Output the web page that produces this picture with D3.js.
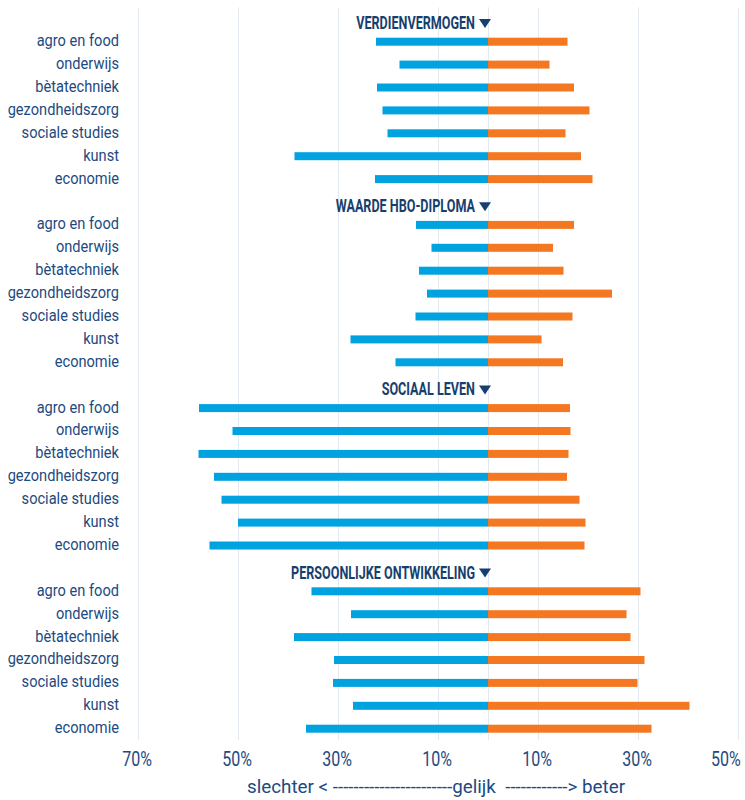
<!DOCTYPE html>
<html>
<head>
<meta charset="utf-8">
<script src="https://cdn.jsdelivr.net/npm/d3@7"></script>
<style>
  body { margin: 0; background: #fff; }
  svg text { font-family: Roboto, "Liberation Sans", sans-serif; }
</style>
</head>
<body>
<svg id="chart" width="745" height="800"></svg>
<script>
// categories per block
var categories = ["agro en food", "onderwijs", "bètatechniek", "gezondheidszorg", "sociale studies", "kunst", "economie"];
var themes = ["VERDIENVERMOGEN", "WAARDE HBO-DIPLOMA", "SOCIAAL LEVEN", "PERSOONLIJKE ONTWIKKELING"];

// % slechter (left, blue) per theme
var slechter = [
  [22.4, 17.7, 22.2, 21.1, 20.1, 38.7, 22.6],
  [14.4, 11.3, 13.8, 12.2, 14.5, 27.5, 18.5],
  [57.8, 51.1, 57.9, 54.8, 53.3, 50.0, 55.7],
  [35.3, 27.4, 38.8, 30.8, 31.0, 27.0, 36.4]
];
// % beter (right, orange) per theme
var beter = [
  [15.9, 12.3, 17.2, 20.3, 15.5, 18.6, 20.9],
  [17.2, 13.0, 15.1, 24.8, 16.9, 10.7, 15.0],
  [16.4, 16.5, 16.1, 15.8, 18.3, 19.5, 19.3],
  [30.5, 27.7, 28.5, 31.3, 29.9, 40.3, 32.7]
];
var tickValues = [-70, -50, -30, -10, 10, 30, 50];
var footer = "slechter < -----------------------gelijk  ------------> beter";

var svg = d3.select("#chart");
var labelColor = "#1d4a80",
  headColor = "#173f6e",
  blue = "#00a3e0",
  orange = "#f47721";

// no condensed font installed, so squeeze the glyphs horizontally around their anchor
function condense(sel, k) {
  sel.attr("transform", function() {
    var ax = +this.getAttribute("x") || 0;
    return "translate(" + ax + ",0) scale(" + k + ",1) translate(" + (-ax) + ",0)";
  });
}

var x = d3.scaleLinear().domain([-70, 50]).range([138, 738]);

// one slot for each header and each row
var slots = [];
themes.forEach(function(t, ti) {
  slots.push("h" + ti);
  categories.forEach(function(c, ci) {
    slots.push(ti + "-" + ci);
  });
});
var y = d3.scaleBand().domain(slots).range([7.35, 740.15]);
function mid(key) { return y(key) + y.bandwidth() / 2; }

// gridlines
svg.append("g")
  .attr("class", "grid")
  .selectAll("line")
  .data(tickValues.concat([0]))
  .enter().append("line")
  .attr("x1", function(d) { return x(d) + 0.5; })
  .attr("x2", function(d) { return x(d) + 0.5; })
  .attr("y1", y.range()[0])
  .attr("y2", y.range()[1])
  .attr("stroke", "#e3e9f1")
  .attr("stroke-width", 1);

var rows = [];
themes.forEach(function(t, ti) {
  categories.forEach(function(c, ci) {
    rows.push({ key: ti + "-" + ci, cat: c, neg: slechter[ti][ci], pos: beter[ti][ci] });
  });
});

var barH = 8;

svg.append("g")
  .selectAll("rect")
  .data(rows)
  .enter().append("rect")
  .attr("x", function(d) { return x(-d.neg); })
  .attr("width", function(d) { return x(0) - x(-d.neg); })
  .attr("y", function(d) { return mid(d.key) - barH / 2; })
  .attr("height", barH)
  .attr("fill", blue);

svg.append("g")
  .selectAll("rect")
  .data(rows)
  .enter().append("rect")
  .attr("x", x(0))
  .attr("width", function(d) { return x(d.pos) - x(0); })
  .attr("y", function(d) { return mid(d.key) - barH / 2; })
  .attr("height", barH)
  .attr("fill", orange);

// category labels
svg.append("g")
  .selectAll("text")
  .data(rows)
  .enter().append("text")
  .attr("x", 119)
  .attr("y", function(d) { return mid(d.key) + 4.5; })
  .attr("text-anchor", "end")
  .attr("font-size", 17)
  .attr("fill", labelColor)
  .text(function(d) { return d.cat; })
  .call(condense, 0.86);

// block headers with the little triangle
var head = svg.append("g")
  .selectAll("g")
  .data(themes)
  .enter().append("g")
  .attr("transform", function(d, i) { return "translate(" + x(0) + "," + (mid("h" + i) + 10.2) + ")"; });

head.append("text")
  .attr("x", -13)
  .attr("text-anchor", "end")
  .attr("font-size", 18)
  .attr("font-weight", "bold")
  .attr("fill", headColor)
  .text(function(d) { return d; })
  .call(condense, 0.7);

head.append("path")
  .attr("d", "M-9,-10L3,-10L-3,-1Z")
  .attr("fill", headColor);

// x axis
var axis = svg.append("g")
  .attr("class", "axis")
  .call(d3.axisBottom(x).tickValues(tickValues).tickSize(0)
    .tickFormat(function(d) { return Math.abs(d) + "%"; }));
axis.select(".domain").remove();
axis.attr("font-family", null).attr("font-size", null);
axis.selectAll("text")
  .attr("x", -1.5)
  .attr("y", 766.5)
  .attr("dy", 0)
  .attr("font-size", 20)
  .attr("fill", labelColor)
  .call(condense, 0.8);

// keep the last label inside the picture
axis.selectAll(".tick").each(function() {
  var t = d3.select(this).select("text");
  var box = this.getBoundingClientRect();
  if (box.right > 743) t.attr("x", -1.5 - (box.right - 743) / 0.8).call(condense, 0.8);
});

svg.append("text")
  .attr("x", 247)
  .attr("y", 793)
  .attr("font-size", 17.5)
  .attr("fill", labelColor)
  .attr("textLength", 378)
  .attr("lengthAdjust", "spacingAndGlyphs")
  .style("white-space", "pre")
  .text(footer);
</script>
</body>
</html>
